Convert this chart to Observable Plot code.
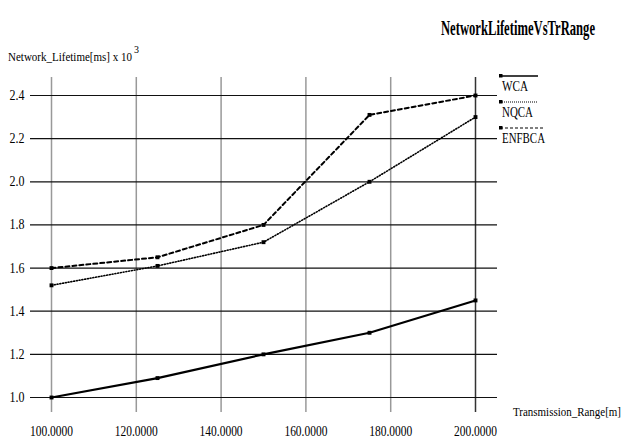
<!DOCTYPE html>
<html><head><meta charset="utf-8">
<script src="https://cdn.jsdelivr.net/npm/d3@7"></script>
<script src="https://cdn.jsdelivr.net/npm/@observablehq/plot@0.6"></script>
<style>body{margin:0;background:#fff} svg{display:block}</style>
</head><body><div id="chart"></div>
<script>
const ranges = [100, 125, 150, 175, 200];
const wca = [1.0, 1.09, 1.2, 1.3, 1.45];
const nqca = [1.52, 1.61, 1.72, 2.0, 2.3];
const enfbca = [1.6, 1.65, 1.8, 2.31, 2.4];
const seriesNames = ["WCA", "NQCA", "ENFBCA"];
const xTicks = [100, 120, 140, 160, 180, 200];
const yTicks = [1.0, 1.2, 1.4, 1.6, 1.8, 2.0, 2.2, 2.4];
const titleText = "NetworkLifetimeVsTrRange";
const yLabelText = "Network_Lifetime[ms] x 10";
const yLabelSup = "3";
const xLabelText = "Transmission_Range[m]";

const seriesValues = [wca, nqca, enfbca];
const dashes = {WCA: null, NQCA: "1,1.8", ENFBCA: "4,3"};
const widths = {WCA: 2.2, NQCA: 1.6, ENFBCA: 2};

const rows = [];
seriesNames.forEach((s, i) => ranges.forEach((r, j) => rows.push({series: s, x: r, y: seriesValues[i][j]})));

const lineMarks = seriesNames.map(s => Plot.line(rows.filter(d => d.series === s), {
  x: "x", y: "y", stroke: "#000", strokeWidth: widths[s],
  strokeDasharray: dashes[s] || undefined
}));

const plot = Plot.plot({
  width: 624, height: 439,
  marginLeft: 51, marginRight: 149, marginTop: 95, marginBottom: 42,
  style: {fontFamily: "'Liberation Serif', serif", fontSize: "14px", background: "#fff", color: "#000"},
  x: {domain: [100, 200], ticks: xTicks, tickFormat: d3.format(".4f"), tickSize: 0, tickPadding: 29, label: null},
  y: {domain: [1.0, 2.4], ticks: yTicks, tickFormat: d3.format(".1f"), tickSize: 0, tickPadding: 27, label: null},
  marks: [
    Plot.ruleX(xTicks, {stroke: d => d === 200 ? "#333" : "#999", strokeWidth: 1.5, insetTop: -18, insetBottom: -15}),
    Plot.ruleY(yTicks, {stroke: "#111", strokeWidth: 1.2, insetLeft: -21, insetRight: -22}),
    ...lineMarks,
    Plot.dot(rows, {x: "x", y: "y", symbol: "square", r: 2.2, fill: "#000"})
  ]
});
document.getElementById("chart").appendChild(plot);

const svg = d3.select(plot);
svg.selectAll("[aria-label='x-axis tick label'] text").attr("textLength", 43).attr("lengthAdjust", "spacingAndGlyphs");
svg.selectAll("[aria-label='y-axis tick label'] text").attr("textLength", 15).attr("lengthAdjust", "spacingAndGlyphs");

const ff = "'Liberation Serif', serif";
const ann = svg.append("g").attr("text-anchor", "start").attr("font-family", ff).attr("fill", "#000");
ann.append("text").attr("x", 441).attr("y", 35).attr("font-weight", "bold")
  .attr("font-size", 22).attr("textLength", 154).attr("lengthAdjust", "spacingAndGlyphs").text(titleText);

ann.append("text").attr("x", 8).attr("y", 61).attr("font-size", 13)
  .attr("textLength", 124).attr("lengthAdjust", "spacingAndGlyphs").text(yLabelText);
ann.append("text").attr("x", 134).attr("y", 53).attr("font-size", 10).text(yLabelSup);

ann.append("text").attr("x", 513).attr("y", 416).attr("font-size", 13)
  .attr("textLength", 108).attr("lengthAdjust", "spacingAndGlyphs").text(xLabelText);

// legend
const legY = [76, 102, 128];
const legLen = {WCA: 38, NQCA: 38, ENFBCA: 45};
const legTextLen = {WCA: 26, NQCA: 31, ENFBCA: 43};
seriesNames.forEach((s, i) => {
  const y = legY[i];
  ann.append("line").attr("x1", 500).attr("x2", 500 + legLen[s]).attr("y1", y).attr("y2", y)
    .attr("stroke", "#000").attr("stroke-width", s === "WCA" ? 1.4 : 1.2)
    .attr("stroke-dasharray", s === "NQCA" ? "1,1" : s === "ENFBCA" ? "3,2" : null);
  ann.append("rect").attr("x", 499).attr("y", y - 2).attr("width", 3.5).attr("height", 3.5).attr("fill", "#000");
  ann.append("text").attr("x", 502).attr("y", y + 15).attr("font-size", 14)
    .attr("textLength", legTextLen[s]).attr("lengthAdjust", "spacingAndGlyphs").text(s);
});
</script>
</body></html>
